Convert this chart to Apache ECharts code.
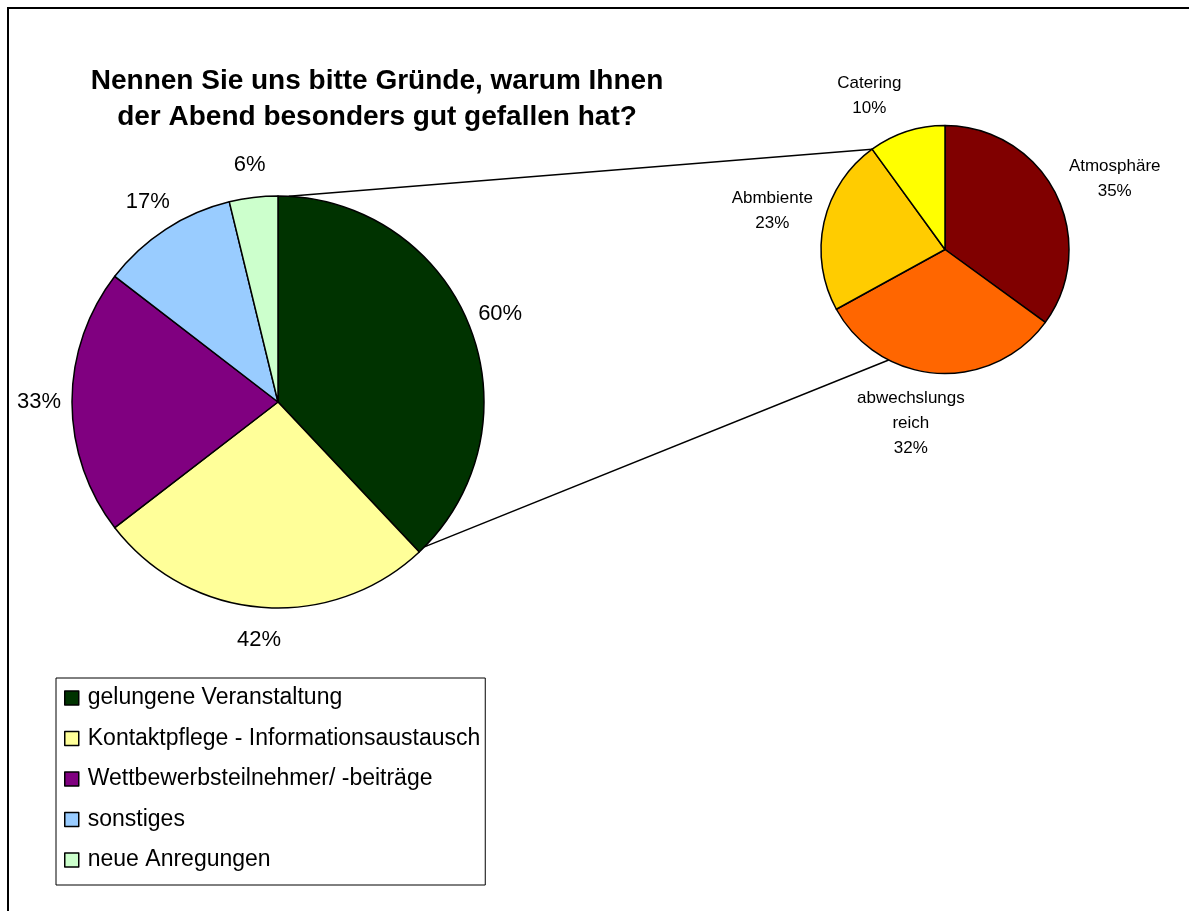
<!DOCTYPE html>
<html>
<head>
<meta charset="utf-8">
<title>Gründe</title>
<script src="https://cdn.jsdelivr.net/npm/echarts@6/dist/echarts.min.js"></script>
<style>
  html, body { margin: 0; padding: 0; background: #fff; }
  #chart { width: 1189px; height: 911px; }
</style>
</head>
<body>
<div id="chart"></div>
<script>
// main pie: share of respondents naming each reason (multiple answers, so > 100%)
const reasonNames = ['gelungene Veranstaltung', 'Kontaktpflege - Informationsaustausch', 'Wettbewerbsteilnehmer/ -beiträge', 'sonstiges', 'neue Anregungen'];
const reasonValues = [60, 42, 33, 17, 6];
const reasonColors = ['#003300', '#FFFF99', '#800080', '#99CCFF', '#CCFFCC'];

// detail pie: breakdown of "gelungene Veranstaltung"
const detailNames = ['Atmosphäre', 'abwechslungs\nreich', 'Abmbiente', 'Catering'];
const detailValues = [35, 32, 23, 10];
const detailColors = ['#800000', '#FF6600', '#FFCC00', '#FFFF00'];

const FONT = '"Liberation Sans", Arial, Helvetica, sans-serif';
const mainCenter = [278, 402], mainR = 206, mainLabelR = 236;
const detailCenter = [945, 249.5], detailR = 124, detailLabelR = 174;
// the detail labels were moved by hand in the original
const detailNudge = [[12, 10], [-23, -3], [0, 0], [-21, 15]];

const toData = (names, values, colors) =>
  names.map((n, i) => ({ name: n, value: values[i], itemStyle: { color: colors[i] } }));

// angle (deg, clockwise from 12 o'clock) where slice k starts
const startAngle = (values, k) => {
  const total = values.reduce((a, b) => a + b, 0);
  return 360 * values.slice(0, k).reduce((a, b) => a + b, 0) / total;
};

const rimPoint = (c, r, deg) => {
  const a = deg * Math.PI / 180;
  return [c[0] + r * Math.sin(a), c[1] - r * Math.cos(a)];
};

// transparent ring whose inside labels sit just outside the real pie
const labelRing = (center, r, labelR, names, values, label) => ({
  type: 'pie',
  silent: true,
  center: center,
  radius: [r, 2 * labelR - r],
  data: names.map((n, i) => ({ name: n, value: values[i], itemStyle: { color: 'rgba(0,0,0,0)' } })),
  itemStyle: { borderWidth: 0 },
  label: Object.assign({ show: true, position: 'inside', color: '#000', fontFamily: FONT }, label),
  labelLine: { show: false },
  emphasis: { disabled: true },
  tooltip: { show: false }
});

const p1 = rimPoint(mainCenter, mainR, 3);
const p2 = rimPoint(mainCenter, mainR, startAngle(reasonValues, 1) - 2);
const q1 = rimPoint(detailCenter, detailR, startAngle(detailValues, 3));
const q2 = rimPoint(detailCenter, detailR, 207);

const chart = echarts.init(document.getElementById('chart'));

chart.setOption({
  backgroundColor: '#fff',
  animation: false,
  title: {
    text: 'Nennen Sie uns bitte Gründe, warum Ihnen\nder Abend besonders gut gefallen hat?',
    left: 377,
    top: 63,
    textAlign: 'center',
    padding: 0,
    textStyle: { fontFamily: FONT, fontSize: 28, fontWeight: 'bold', lineHeight: 36, color: '#000' }
  },
  legend: {
    orient: 'vertical',
    left: 56,
    top: 678,
    data: reasonNames,
    icon: 'rect',
    itemWidth: 14,
    itemHeight: 14,
    itemGap: 17.5,
    selectedMode: false,
    itemStyle: { borderColor: '#000', borderWidth: 1.5 },
    textStyle: { fontFamily: FONT, fontSize: 23, color: '#000', padding: [0, 0, 0, 4] },
    borderColor: '#000',
    borderWidth: 1,
    padding: [8.5, 5, 13.5, 8]
  },
  graphic: [
    {
      type: 'rect',
      shape: { x: 8, y: 8, width: 1300, height: 1000 },
      style: { fill: 'none', stroke: '#000', lineWidth: 2 },
      silent: true
    },
    {
      type: 'line',
      shape: { x1: p1[0], y1: p1[1], x2: q1[0], y2: q1[1] },
      style: { stroke: '#000', lineWidth: 1.5 },
      silent: true
    },
    {
      type: 'line',
      shape: { x1: p2[0], y1: p2[1], x2: q2[0], y2: q2[1] },
      style: { stroke: '#000', lineWidth: 1.5 },
      silent: true
    }
  ],
  series: [
    {
      type: 'pie',
      center: mainCenter,
      radius: mainR,
      startAngle: 90,
      clockwise: true,
      data: toData(reasonNames, reasonValues, reasonColors),
      itemStyle: { borderColor: '#000', borderWidth: 1.5 },
      label: { show: false },
      labelLine: { show: false },
      emphasis: { disabled: true }
    },
    labelRing(mainCenter, mainR, mainLabelR, reasonNames, reasonValues,
      { formatter: '{c}%', fontSize: 22 }),
    {
      type: 'pie',
      center: detailCenter,
      radius: detailR,
      startAngle: 90,
      clockwise: true,
      data: toData(detailNames, detailValues, detailColors),
      itemStyle: { borderColor: '#000', borderWidth: 1.5 },
      label: { show: false },
      labelLine: { show: false },
      emphasis: { disabled: true }
    },
    Object.assign(
      labelRing(detailCenter, detailR, detailLabelR, detailNames, detailValues,
        { formatter: '{b}\n{c}%', fontSize: 17, lineHeight: 25 }),
      { labelLayout: (p) => ({ dx: detailNudge[p.dataIndex][0], dy: detailNudge[p.dataIndex][1] }) }
    )
  ]
});
</script>
</body>
</html>
